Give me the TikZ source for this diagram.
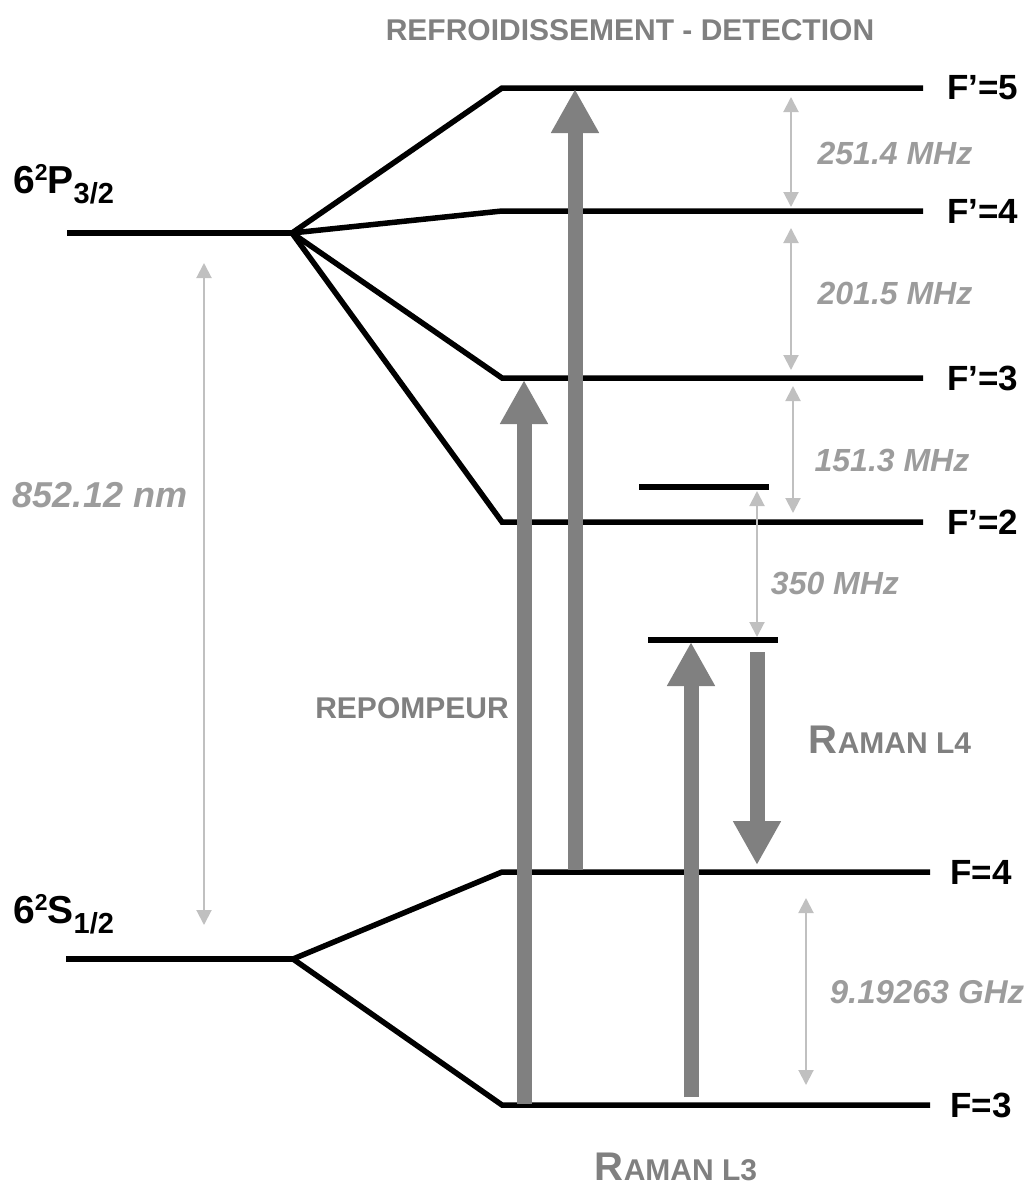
\documentclass[tikz,border=0pt]{standalone}
\usepackage{fontspec}
\setmainfont{Liberation Sans}
\usetikzlibrary{arrows.meta}
\definecolor{biggray}{HTML}{808080}
\definecolor{gaparrow}{HTML}{C0C0C0}
\definecolor{txtgray}{HTML}{9C9C9C}
\newcommand\ramanlbl[1]{{\fontsize{40}{40}\selectfont R}{\fontsize{30}{30}\selectfont AMAN L#1}}
\newcommand\termlbl[4]{{\fontsize{39}{39}\selectfont #1\raisebox{13pt}{\fontsize{23}{23}\selectfont #2}#3\raisebox{-10pt}{\fontsize{29}{29}\selectfont #4}}}
\begin{document}
\begin{tikzpicture}[x=1pt,y=-1pt,
  lvl/.style={line width=5.5pt, black},
  beam/.style={line width=15pt, biggray, -{Triangle[width=45pt,length=44pt]}},
  gap/.style={line width=2pt, gaparrow, {Triangle[width=15pt,length=15pt]}-{Triangle[width=15pt,length=15pt]}},
  flbl/.style={font=\fontsize{35}{38}\selectfont\bfseries, anchor=west, inner sep=0pt},
  freq/.style={font=\fontsize{32}{36}\selectfont\bfseries\itshape, text=txtgray, inner sep=0pt},
  beamlbl/.style={font=\fontsize{30}{34}\selectfont\bfseries, text=biggray, inner sep=0pt},
  termnode/.style={font=\bfseries, anchor=base west, inner sep=0pt}]
\useasboundingbox (0,0) rectangle (1029,1189);
% fine structure levels
\coordinate (P0) at (67,233);
\coordinate (Ps) at (292,233);
\coordinate (S0) at (66,959);
\coordinate (Ss) at (293,959);
% hyperfine levels
\coordinate (F5l) at (502,88);  \coordinate (F5r) at (923,88);
\coordinate (F4pl) at (502,211); \coordinate (F4pr) at (923,211);
\coordinate (F3pl) at (502,378); \coordinate (F3pr) at (923,378);
\coordinate (F2pl) at (502,522); \coordinate (F2pr) at (923,522);
\coordinate (F4l) at (502,872); \coordinate (F4r) at (930,872);
\coordinate (F3l) at (502,1105); \coordinate (F3r) at (930,1105);
% virtual levels
\coordinate (V1l) at (639,487); \coordinate (V1r) at (769,487);
\coordinate (V2l) at (648,640); \coordinate (V2r) at (778,640);

\draw[lvl] (P0) -- (Ps);
\draw[lvl] (Ps) -- (F5l) -- (F5r);
\draw[lvl] (Ps) -- (F4pl) -- (F4pr);
\draw[lvl] (Ps) -- (F3pl) -- (F3pr);
\draw[lvl] (Ps) -- (F2pl) -- (F2pr);
\draw[lvl] (S0) -- (Ss);
\draw[lvl] (Ss) -- (F4l) -- (F4r);
\draw[lvl] (Ss) -- (F3l) -- (F3r);
\draw[lvl] (V1l) -- (V1r);
\draw[lvl] (V2l) -- (V2r);

% level labels
\node[flbl] (lF5) at (947,88) {F’=5};
\node[flbl] (lF4p) at (947,211) {F’=4};
\node[flbl] (lF3p) at (947,378) {F’=3};
\node[flbl] (lF2p) at (947,522) {F’=2};
\node[flbl] (lF4) at (950,872) {F=4};
\node[flbl] (lF3) at (950,1105) {F=3};
\node[termnode] (lP) at (13,193) {\termlbl{6}{2}{P}{3/2}};
\node[termnode] (lS) at (13,923) {\termlbl{6}{2}{S}{1/2}};

% gap arrows
\coordinate (g852a) at (204,263); \coordinate (g852b) at (204,925);
\coordinate (g251a) at (791,97);  \coordinate (g251b) at (791,207);
\coordinate (g201a) at (791,228); \coordinate (g201b) at (791,370);
\coordinate (g151a) at (793,386); \coordinate (g151b) at (793,513);
\coordinate (g350a) at (757,491); \coordinate (g350b) at (757,637);
\coordinate (g919a) at (806,898); \coordinate (g919b) at (806,1085);
\draw[gap] (g852a) -- (g852b);
\draw[gap] (g251a) -- (g251b);
\draw[gap] (g201a) -- (g201b);
\draw[gap] (g151a) -- (g151b);
\draw[gap] (g350a) -- (g350b);
\draw[gap] (g919a) -- (g919b);

\node[freq, font=\fontsize{36}{40}\selectfont\bfseries\itshape] (t852) at (100,495) {852.12 nm};
\node[freq] (t251) at (895,153) {251.4 MHz};
\node[freq] (t201) at (895,293) {201.5 MHz};
\node[freq] (t151) at (892,460) {151.3 MHz};
\node[freq] (t350) at (835,583) {350 MHz};
\node[freq, font=\fontsize{33}{36}\selectfont\bfseries\itshape] (t919) at (927,992) {9.19263 GHz};

% laser beams
\coordinate (refA) at (575,870); \coordinate (refB) at (575,89);
\coordinate (repA) at (524,1104); \coordinate (repB) at (524,380);
\coordinate (l3A) at (691,1097); \coordinate (l3B) at (691,642);
\coordinate (l4A) at (757,652); \coordinate (l4B) at (757,865);
\draw[beam] (refA) -- (refB);
\draw[beam] (repA) -- (repB);
\draw[beam] (l3A) -- (l3B);
\draw[beam] (l4A) -- (l4B);

\node[beamlbl] (tref) at (630,30) {REFROIDISSEMENT - DETECTION};
\node[beamlbl] (trep) at (412,708) {REPOMPEUR};
\node[beamlbl] (tl4) at (890,740) {\ramanlbl{4}};
\node[beamlbl, anchor=base] (tl3) at (676,1180) {\ramanlbl{3}};
\end{tikzpicture}
\end{document}
